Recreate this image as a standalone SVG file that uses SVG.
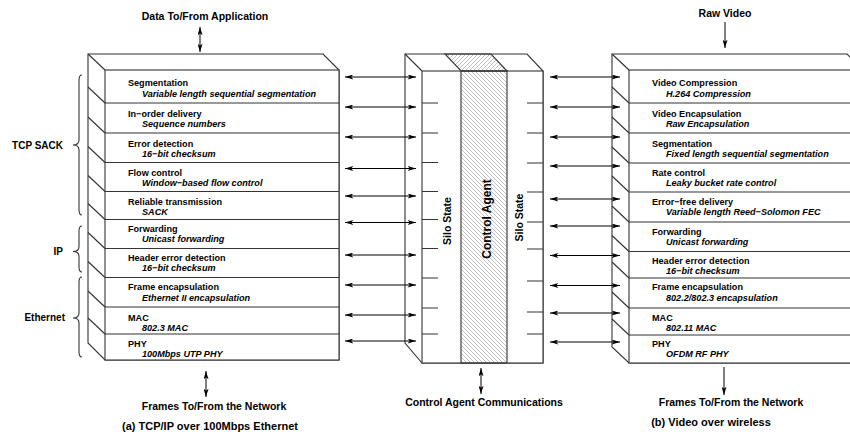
<svg xmlns="http://www.w3.org/2000/svg" width="850" height="441" viewBox="0 0 850 441">
<style>
.ln{stroke:#333;stroke-width:1.1;fill:none}
.bx{stroke:#333;stroke-width:1.1;fill:#fff}
.t{font-family:"Liberation Sans",Arial,sans-serif;font-weight:bold;font-size:9.1px;fill:#000}
.s{font-family:"Liberation Sans",Arial,sans-serif;font-weight:bold;font-style:italic;font-size:9.1px;fill:#000}
.lb{font-family:"Liberation Sans",Arial,sans-serif;font-weight:bold;font-size:10.5px;fill:#000;text-anchor:middle}
.cap{font-family:"Liberation Sans",Arial,sans-serif;font-weight:bold;font-size:11px;fill:#000;text-anchor:middle}
.br{font-family:"Liberation Sans",Arial,sans-serif;font-weight:bold;font-size:10px;fill:#000;text-anchor:end}
.ar{stroke:#000;stroke-width:1;fill:none;marker-end:url(#ah);marker-start:url(#ah)}
.ar1{stroke:#000;stroke-width:1;fill:none;marker-end:url(#ah)}
</style>
<defs>
<marker id="ah" viewBox="0 0 10 6" refX="10" refY="3" markerWidth="9" markerHeight="5" orient="auto-start-reverse" markerUnits="userSpaceOnUse">
<path d="M0,0 L10,3 L0,6 L2.5,3 z" fill="#000"/>
</marker>
<pattern id="hb" patternUnits="userSpaceOnUse" width="4" height="4">
<path d="M-1,-1 L5,5 M-1,3 L1,5 M3,-1 L5,1" stroke="#999" stroke-width="0.6"/>
</pattern>
<pattern id="hf" patternUnits="userSpaceOnUse" width="4" height="4">
<path d="M-1,5 L5,-1 M-1,1 L1,-1 M3,5 L5,3" stroke="#999" stroke-width="0.6"/>
</pattern>
</defs>
<rect width="850" height="441" fill="#fff"/>

<g id="left-stack">
<polygon class="bx" points="88,54 323,54 339,70 339,360 105,360 88,343"/>
<rect class="bx" x="105" y="70" width="234" height="290"/>
<path class="ln" d="M88,54 L105,70 M88,87 L105,103 M88,117 L105,133 M88,146.5 L105,162.5 M88,175.5 L105,191.5 M88,203.5 L105,219.5 M88,232.5 L105,248.5 M88,261.5 L105,277.5 M88,291 L105,307 M88,318 L105,334"/>
<path class="ln" d="M105,103H339 M105,133H339 M105,162.5H339 M105,191.5H339 M105,219.5H339 M105,248.5H339 M105,277.5H339 M105,307H339 M105,334H339"/>
<text class="t" x="128" y="86">Segmentation</text><text class="s" x="142" y="97">Variable length sequential segmentation</text>
<text class="t" x="128" y="116.7">In−order delivery</text><text class="s" x="142" y="126.7">Sequence numbers</text>
<text class="t" x="128" y="146.7">Error detection</text><text class="s" x="142" y="156.7">16−bit checksum</text>
<text class="t" x="128" y="176">Flow control</text><text class="s" x="142" y="185.7">Window−based flow control</text>
<text class="t" x="128" y="205.3">Reliable transmission</text><text class="s" x="142" y="215.3">SACK</text>
<text class="t" x="128" y="231.7">Forwarding</text><text class="s" x="142" y="241.7">Unicast forwarding</text>
<text class="t" x="128" y="261.3">Header error detection</text><text class="s" x="142" y="271">16−bit checksum</text>
<text class="t" x="128" y="290">Frame encapsulation</text><text class="s" x="142" y="300.5">Ethernet II encapsulation</text>
<text class="t" x="128" y="321">MAC</text><text class="s" x="142" y="330.7">802.3 MAC</text>
<text class="t" x="128" y="347">PHY</text><text class="s" x="142" y="356.7">100Mbps UTP PHY</text>
</g>

<g id="braces">
<path class="ln" d="M82,75 Q79,75 79,80 L79,140 Q79,145 73,145 Q79,145 79,150 L79,210 Q79,215 82,215"/>
<path class="ln" d="M82,226 Q79,226 79,231 L79,246.5 Q79,251.5 73,251.5 Q79,251.5 79,256.5 L79,267 Q79,272 82,272"/>
<path class="ln" d="M82,277 Q79,277 79,282 L79,313 Q79,318 73,318 Q79,318 79,323 L79,352 Q79,357 82,357"/>
<text class="br" x="63" y="148.5">TCP SACK</text>
<text class="br" x="63" y="255">IP</text>
<text class="br" x="65" y="321">Ethernet</text>
</g>

<g id="center-silo">
<polygon class="bx" points="405,54 527,54 543,71 543,363 422,363 405,343"/>
<rect class="bx" x="422" y="71" width="121" height="292"/>
<rect x="461" y="71" width="46" height="292" fill="url(#hb)" stroke="#333" stroke-width="1.1"/>
<polygon points="445,54 491,54 507,71 461,71" fill="url(#hf)" stroke="#333" stroke-width="1.1"/>
<path class="ln" d="M405,54 L422,71"/>
<path class="ln" d="M422,103H438 M422,133H438 M422,162.5H438 M422,191.5H438 M422,219.5H438 M422,248.5H438 M422,278H438 M422,308H438 M422,334H438"/>
<path class="ln" d="M527,103H543 M527,133H543 M527,163H543 M527,192H543 M527,222H543 M527,249H543 M527,281H543 M527,312H543 M527,334H543"/>
<text class="lb" transform="translate(451,221) rotate(-90)">Silo State</text>
<text class="lb" transform="translate(523,217.5) rotate(-90)">Silo State</text>
<text class="lb" style="font-size:12px" transform="translate(491,219) rotate(-90)">Control Agent</text>
</g>

<g id="right-stack">
<polygon class="bx" points="612,54 847,54 863,70 863,363 629,363 612,347"/>
<rect class="bx" x="629" y="70" width="240" height="293"/>
<path class="ln" d="M612,54 L629,70 M612,87 L629,103 M612,117 L629,133 M612,147 L629,163 M612,176 L629,192 M612,206 L629,222 M612,235.5 L629,251.5 M612,262 L629,278 M612,292 L629,308 M612,319 L629,335"/>
<path class="ln" d="M629,103H850 M629,133H850 M629,163H850 M629,192H850 M629,222H850 M629,251.5H850 M629,278H850 M629,308H850 M629,335H850"/>
<text class="t" x="652" y="86">Video Compression</text><text class="s" x="666" y="96.5">H.264 Compression</text>
<text class="t" x="652" y="116.7">Video Encapsulation</text><text class="s" x="666" y="126.7">Raw Encapsulation</text>
<text class="t" x="652" y="146.7">Segmentation</text><text class="s" x="666" y="156.7">Fixed length sequential segmentation</text>
<text class="t" x="652" y="175.7">Rate control</text><text class="s" x="666" y="185.7">Leaky bucket rate control</text>
<text class="t" x="652" y="205">Error−free delivery</text><text class="s" x="666" y="215">Variable length Reed−Solomon FEC</text>
<text class="t" x="652" y="234.7">Forwarding</text><text class="s" x="666" y="245">Unicast forwarding</text>
<text class="t" x="652" y="264">Header error detection</text><text class="s" x="666" y="274.3">16−bit checksum</text>
<text class="t" x="652" y="290">Frame encapsulation</text><text class="s" x="666" y="300.7">802.2/802.3 encapsulation</text>
<text class="t" x="652" y="320.7">MAC</text><text class="s" x="666" y="330.7">802.11 MAC</text>
<text class="t" x="652" y="346.7">PHY</text><text class="s" x="666" y="357.3">OFDM RF PHY</text>
</g>

<g id="labels">
<text class="lb" x="205" y="20">Data To/From Application</text>
<text class="lb" x="214" y="410">Frames To/From the Network</text>
<text class="cap" x="210" y="430">(a) TCP/IP over 100Mbps Ethernet</text>
<text class="lb" x="484" y="406">Control Agent Communications</text>
<text class="lb" x="725" y="17">Raw Video</text>
<text class="lb" x="731" y="406">Frames To/From the Network</text>
<text class="cap" x="711" y="426">(b) Video over wireless</text>
</g>

<g id="connectors">
<path class="ar" d="M200,27V52"/>
<path class="ar" d="M206,371V397"/>
<path class="ar" d="M481,368V394"/>
<path class="ar1" d="M725,22V48"/>
<path class="ar1" d="M724,367V395"/>
<path class="ar" d="M345,77H416"/>
<path class="ar" d="M345,107H416"/>
<path class="ar" d="M345,137H416"/>
<path class="ar" d="M345,168.5H416"/>
<path class="ar" d="M345,196H416"/>
<path class="ar" d="M345,222.5H416"/>
<path class="ar" d="M345,255H416"/>
<path class="ar" d="M345,285H416"/>
<path class="ar" d="M345,315H416"/>
<path class="ar" d="M345,341H416"/>
<path class="ar" d="M550,77H620"/>
<path class="ar" d="M550,107H620"/>
<path class="ar" d="M550,137H620"/>
<path class="ar" d="M550,166H620"/>
<path class="ar" d="M550,199H620"/>
<path class="ar" d="M550,226H620"/>
<path class="ar" d="M550,255.5H620"/>
<path class="ar" d="M550,285.5H620"/>
<path class="ar" d="M550,313H620"/>
<path class="ar" d="M550,342H620"/>
</g>
</svg>
